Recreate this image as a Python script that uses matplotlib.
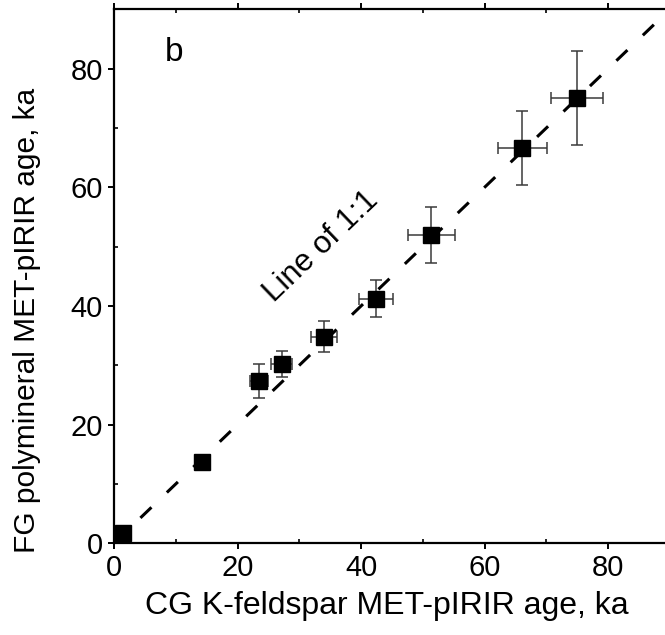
import numpy as np
import matplotlib
matplotlib.use('Agg')
import matplotlib.pyplot as plt
from matplotlib.ticker import MultipleLocator

# CG K-feldspar vs FG polymineral MET-pIRIR ages (ka)
cg_age = [1.5, 14.2, 23.5, 27.2, 34.0, 42.4, 51.4, 66.1, 74.9]
fg_age = [1.8, 13.7, 27.4, 30.2, 34.8, 41.2, 51.9, 66.6, 75.1]
cg_err = [0.0, 0.0, 1.4, 1.7, 2.1, 2.8, 3.8, 4.0, 4.2]
fg_err = [0.0, 0.0, 2.9, 2.2, 2.6, 3.1, 4.7, 6.2, 7.9]

one_to_one = [0, 90]

plt.rcParams['font.family'] = ['Liberation Sans', 'DejaVu Sans']

fig = plt.figure(figsize=(6.65, 6.35), dpi=100)
ax = fig.add_axes([0.1714, 0.1444, 0.836, 0.841])

# 1:1 line
ax.plot(one_to_one, one_to_one, color='black', linewidth=2.2,
        linestyle=(0, (5, 7)), zorder=1)

# 误差棒 + 方块
ax.errorbar(cg_age, fg_age, xerr=cg_err, yerr=fg_err, fmt='none',
            ecolor='#3a3a3a', elinewidth=1.1, capsize=4, capthick=1.1, zorder=2)
ax.plot(cg_age, fg_age, 's', color='black', markersize=12, zorder=3)

ax.text(33.5, 50.0, 'Line of 1:1', rotation=43.8, fontsize=22.5,
        ha='center', va='center')
ax.text(9.7, 81.2, 'b', fontsize=24, ha='center', va='baseline')

ax.set_xlim(0, 90)
ax.set_ylim(0, 90)
ax.xaxis.set_major_locator(MultipleLocator(20))
ax.yaxis.set_major_locator(MultipleLocator(20))
ax.xaxis.set_minor_locator(MultipleLocator(10))
ax.yaxis.set_minor_locator(MultipleLocator(10))

ax.tick_params(which='major', direction='out', length=4, width=1.4,
               labelsize=21, pad=4)
ax.tick_params(which='minor', direction='in', length=3, width=1.2)
ax.tick_params(which='both', top=True, right=True)

for sp in ax.spines.values():
    sp.set_linewidth(1.6)

ax.set_xlabel('CG K-feldspar MET-pIRIR age, ka', fontsize=23)
ax.set_ylabel('FG polymineral MET-pIRIR age, ka', fontsize=21.5)
ax.yaxis.set_label_coords(-0.131, 0.418)
ax.xaxis.set_label_coords(0.491, -0.09)

plt.savefig('out.png', dpi=100)
plt.close()
